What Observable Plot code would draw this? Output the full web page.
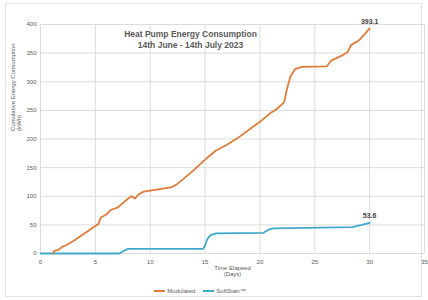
<!DOCTYPE html>
<html>
<head>
<meta charset="utf-8">
<script src="https://cdn.jsdelivr.net/npm/d3@7"></script>
<script src="https://cdn.jsdelivr.net/npm/@observablehq/plot@0.6"></script>
<style>
  html, body { margin: 0; padding: 0; background: #fff; }
  #wrap { position: relative; width: 428px; height: 300px; overflow: hidden; font-family: "Liberation Sans", Arial, sans-serif; }
  #frame { position: absolute; left: 5px; top: 3px; width: 417px; height: 294px; border: 1px solid #e3e3e3; box-sizing: border-box; }
  #chart { position: absolute; left: 0; top: 0; }
  #legend { position: absolute; left: 0; top: 288px; width: 428px; display: flex; justify-content: center; gap: 8px; font-size: 6px; color: #595959; padding-right: 28px; box-sizing: border-box; }
  .item { display: flex; align-items: center; gap: 2px; }
  .sw { display: inline-block; width: 11px; height: 2px; }
</style>
</head>
<body>
<div id="wrap">
  <div id="frame"></div>
  <div id="chart"></div>
  <div id="legend"></div>
</div>
<script>
// ---- data ----
const titleLines = ["Heat Pump Energy Consumption", "14th June - 14th July 2023"];
const xTitle = "Time Elapsed\n(Days)";
const yTitle = "Cumulative Energy Consumption\n(kWh)";
const seriesNames = ["Modulated", "SoftStart™"];
const seriesColors = ["#e07b39", "#3fa9cc"];
const xTicks = [0, 5, 10, 15, 20, 25, 30, 35];
const yTicks = [0, 50, 100, 150, 200, 250, 300, 350, 400];

const modDays = [1.1, 1.3, 1.6, 2.0, 2.3, 3.0, 4.0, 5.0, 5.3, 5.5, 6.0, 6.4, 7.0, 7.5, 8.0, 8.3, 8.6, 9.0, 9.4, 10.0, 11.0, 12.0, 12.5, 13.0, 14.0, 15.0, 15.5, 16.0, 17.0, 18.0, 19.0, 20.0, 21.0, 21.5, 22.2, 22.5, 22.8, 23.2, 23.8, 26.1, 26.5, 27.5, 28.0, 28.3, 29.0, 29.5, 30.0];
const modKwh  = [0, 5, 6, 12, 14, 22, 35, 48, 52, 63, 68, 76, 80, 88, 96, 100, 96, 104, 108, 110, 113, 116, 122, 130, 146, 164, 172, 180, 190, 202, 216, 230, 246, 252, 264, 290, 310, 322, 326, 327, 337, 346, 352, 364, 372, 382, 393.1];

const ssDays = [0, 7.2, 7.6, 8.0, 14.8, 15.0, 15.2, 15.5, 16.0, 20.3, 20.8, 21.3, 28.4, 29.3, 30.0];
const ssKwh  = [0, 0, 5, 8, 8, 14, 25, 32, 35, 36, 42, 44, 46, 50, 53.6];

const endLabels = ["393.1", "53.6"];

// ---- build tables ----
const mod = modDays.map((d, i) => ({day: d, kwh: modKwh[i]}));
const ss = ssDays.map((d, i) => ({day: d, kwh: ssKwh[i]}));
const ends = [
  {day: modDays[modDays.length - 1], kwh: modKwh[modKwh.length - 1], label: endLabels[0]},
  {day: ssDays[ssDays.length - 1], kwh: ssKwh[ssKwh.length - 1], label: endLabels[1]}
];

const grid = "#dcdcdc";
const chart = Plot.plot({
  width: 428,
  height: 282,
  marginLeft: 40,
  marginRight: 4,
  marginTop: 24,
  marginBottom: 29,
  style: {fontFamily: "'Liberation Sans', Arial, sans-serif", fontSize: "6px", color: "#595959", background: "transparent", overflow: "visible"},
  x: {domain: [0, 35], label: null},
  y: {domain: [0, 400], label: null},
  marks: [
    Plot.gridX(xTicks, {stroke: grid, strokeOpacity: 1}),
    Plot.gridY(yTicks, {stroke: grid, strokeOpacity: 1}),
    Plot.axisX(xTicks, {tickSize: 0, tickPadding: 6, fill: "#595959", label: null}),
    Plot.axisY(yTicks, {tickSize: 0, tickPadding: 4, fill: "#595959", label: null}),
    Plot.line(ss, {x: "day", y: "kwh", stroke: seriesColors[1], strokeWidth: 1.8}),
    Plot.line(mod, {x: "day", y: "kwh", stroke: seriesColors[0], strokeWidth: 1.8}),
    Plot.text(ends, {x: "day", y: "kwh", text: "label", dy: -7, fontSize: 7, fontWeight: "bold", fill: "#404040"}),
    Plot.text([titleLines.join("\n")], {frameAnchor: "top", dx: -42, dy: 5, fontSize: 8.5, fontWeight: "bold", fill: "#595959", lineHeight: 1.3}),
    Plot.text([xTitle], {frameAnchor: "bottom", lineAnchor: "top", dy: 12, fontSize: 6, fill: "#595959"}),
    Plot.text([yTitle], {frameAnchor: "left", dx: -24, dy: -8, rotate: -90, fontSize: 6, fill: "#595959"})
  ]
});
document.getElementById("chart").appendChild(chart);

const legend = document.getElementById("legend");
seriesNames.forEach((n, i) => {
  const it = document.createElement("span");
  it.className = "item";
  const sw = document.createElement("span");
  sw.className = "sw";
  sw.style.background = seriesColors[i];
  const tx = document.createElement("span");
  tx.textContent = n;
  it.appendChild(sw);
  it.appendChild(tx);
  legend.appendChild(it);
});
</script>
</body>
</html>
